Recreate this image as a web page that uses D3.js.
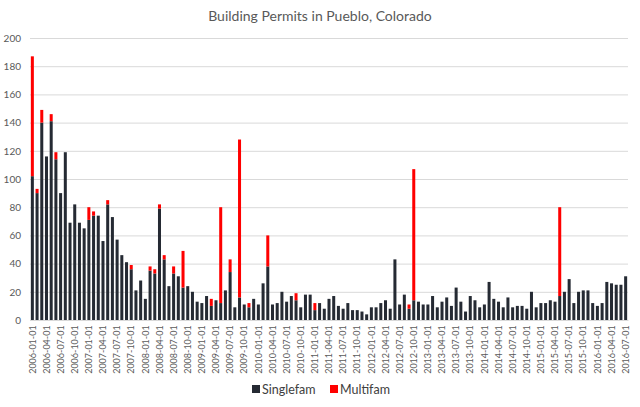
<!DOCTYPE html>
<html>
<head>
<meta charset="utf-8">
<script src="https://cdn.jsdelivr.net/npm/d3@7"></script>
<style>
  body { margin: 0; background: #fff; }
  svg { font-family: Lato, "Open Sans", sans-serif; }
</style>
</head>
<body>
<svg id="drawing_region"></svg>
<script>
// months 2006-01 .. 2016-07
var start_month = '2006-01-01';
var end_month = '2016-07-01';
var series_names = ['Singlefam', 'Multifam'];
var series_colors = ['#252a33', '#ff0000'];
var y_ticks = [0, 20, 40, 60, 80, 100, 120, 140, 160, 180, 200];

var singlefam = [
    102, 90, 140, 116, 141, 114, 90, 119, 69, 82,
    69, 65, 71, 74, 74, 56, 82, 73, 57, 46,
    41, 36, 21, 28, 15, 35, 33, 79, 43, 24,
    33, 31, 23, 24, 20, 13, 12, 17, 10, 14,
    12, 21, 34, 9, 16, 11, 9, 15, 11, 26,
    38, 11, 12, 20, 13, 17, 14, 9, 18, 18,
    7, 12, 8, 15, 17, 10, 8, 12, 7, 7,
    6, 4, 9, 9, 12, 14, 8, 43, 11, 18,
    8, 14, 13, 11, 11, 17, 9, 13, 16, 10,
    23, 13, 6, 17, 14, 9, 11, 27, 15, 13,
    9, 16, 9, 10, 10, 8, 20, 9, 12, 12,
    14, 13, 17, 20, 29, 12, 20, 21, 21, 12,
    10, 12, 27, 26, 25, 25, 31
];
var multifam = [
    85, 3, 9, 0, 5, 5, 0, 0, 0, 0,
    0, 0, 9, 3, 0, 0, 3, 0, 0, 0,
    0, 3, 0, 0, 0, 3, 3, 3, 3, 0,
    5, 0, 26, 0, 0, 0, 0, 0, 5, 0,
    68, 0, 9, 0, 112, 0, 3, 0, 0, 0,
    22, 0, 0, 0, 0, 0, 5, 0, 0, 0,
    5, 0, 0, 0, 0, 0, 0, 0, 0, 0,
    0, 0, 0, 0, 0, 0, 0, 0, 0, 0,
    3, 93, 0, 0, 0, 0, 0, 0, 0, 0,
    0, 0, 0, 0, 0, 0, 0, 0, 0, 0,
    0, 0, 0, 0, 0, 0, 0, 0, 0, 0,
    0, 0, 63, 0, 0, 0, 0, 0, 0, 0,
    0, 0, 0, 0, 0, 0, 0
];

var width = 640;
var height = 407;
var margin = {top: 38, right: 12, bottom: 87, left: 30};
const inner_width = width - margin.left - margin.right;
const inner_height = height - margin.top - margin.bottom;

const fmt = d3.timeFormat('%Y-%m-%d');
const parse = d3.timeParse('%Y-%m-%d');
const months = d3.timeMonth.range(parse(start_month), d3.timeMonth.offset(parse(end_month), 1)).map(fmt);

const data = months.map((m, i) => ({month: m, Singlefam: singlefam[i], Multifam: multifam[i]}));
const stacked = d3.stack().keys(series_names)(data);

var svg = d3.select('#drawing_region')
    .attr('width', width)
    .attr('height', height);

svg.append('text')
    .attr('x', width / 2)
    .attr('y', 21)
    .attr('text-anchor', 'middle')
    .attr('font-size', 14)
    .attr('fill', '#595959')
    .text('Building Permits in Pueblo, Colorado');

var chart = svg.append('g')
    .attr('transform', `translate(${margin.left}, ${margin.top})`);

const xscale = d3.scaleBand()
      .domain(months)
      .range([0, inner_width])
      .paddingInner(0.36)
      .paddingOuter(0.18);

const yscale = d3.scaleLinear()
      .domain([0, 200])
      .range([inner_height, 0]);

// gridlines + y labels
const yaxis = d3.axisLeft(yscale)
      .tickValues(y_ticks)
      .tickSize(-inner_width)
      .tickPadding(9);
const yaxis_group = chart.append('g').call(yaxis);
yaxis_group.select('.domain').remove();
yaxis_group.selectAll('line').attr('stroke', '#d9d9d9');
yaxis_group.selectAll('text')
    .attr('fill', '#595959')
    .attr('font-size', 10)
    .attr('font-family', 'Lato, sans-serif');

// bars
chart.selectAll('.series')
    .data(stacked)
    .join('g')
    .attr('fill', (d, i) => series_colors[i])
    .selectAll('rect')
    .data(d => d)
    .join('rect')
    .attr('x', d => xscale(d.data.month))
    .attr('width', xscale.bandwidth())
    .attr('y', d => yscale(d[1]))
    .attr('height', d => yscale(d[0]) - yscale(d[1]));

// x axis, every third month
const xaxis = d3.axisBottom(xscale)
      .tickValues(months.filter((m, i) => i % 3 === 0))
      .tickSize(0)
      .tickPadding(6);
const xaxis_group = chart.append('g')
      .attr('transform', `translate(0, ${inner_height})`)
      .call(xaxis);
xaxis_group.select('.domain').attr('stroke', '#d9d9d9');
xaxis_group.selectAll('text')
    .attr('fill', '#595959')
    .attr('font-size', 9)
    .attr('font-family', 'Lato, sans-serif')
    .attr('text-anchor', 'end')
    .attr('transform', 'rotate(-90)')
    .attr('dx', '-0.6em')
    .attr('dy', '0.35em')
    .attr('y', 0);

// legend
const legend = svg.append('g')
      .attr('transform', 'translate(252, 385)');
const legend_x = [0, 78];
series_names.forEach((name, i) => {
    legend.append('rect')
        .attr('x', legend_x[i])
        .attr('y', 0)
        .attr('width', 8)
        .attr('height', 8)
        .attr('fill', series_colors[i]);
    legend.append('text')
        .attr('x', legend_x[i] + 10)
        .attr('y', 8.5)
        .attr('font-size', 12.5)
        .attr('fill', '#404040')
        .text(name);
});
</script>
</body>
</html>
